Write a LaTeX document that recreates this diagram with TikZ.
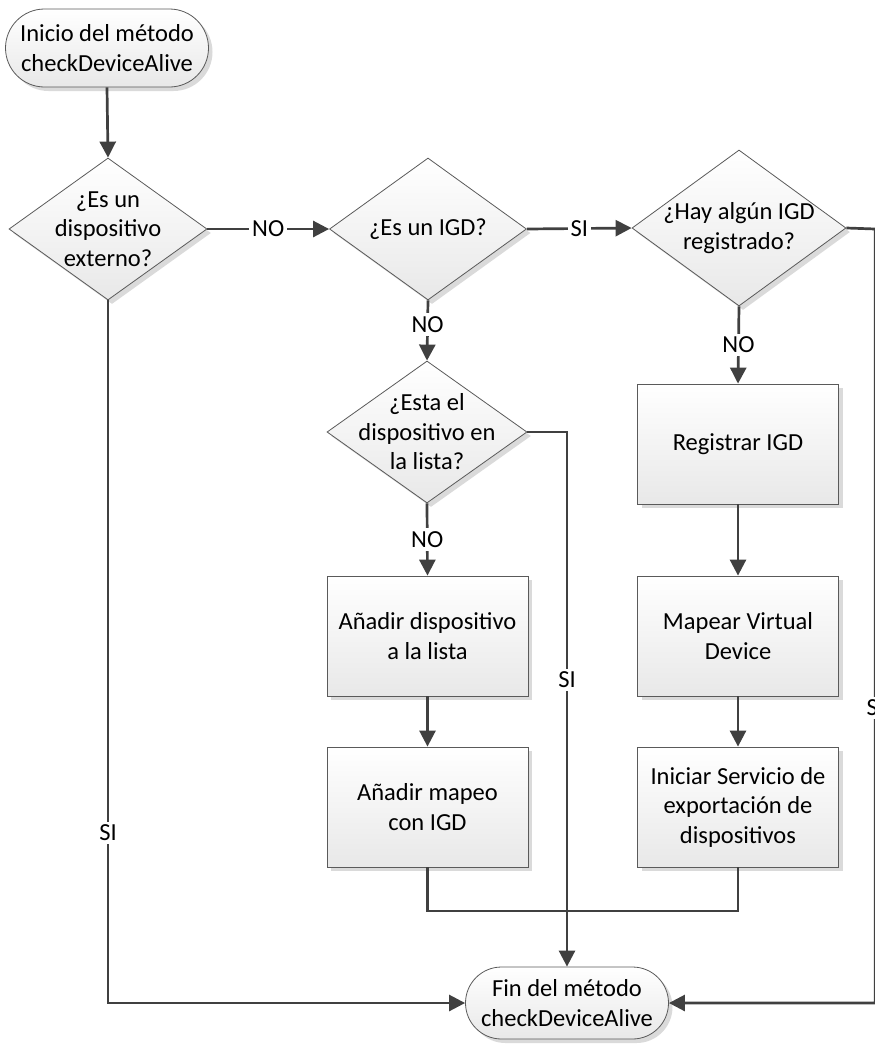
\documentclass[tikz,border=0pt]{standalone}
\usepackage{fontspec}
\setmainfont{Carlito}
\usetikzlibrary{shapes.geometric,shapes.misc,arrows.meta,shadows}

\definecolor{linegray}{HTML}{404040}
\definecolor{bordergray}{HTML}{5A5A5A}
\definecolor{shadowgray}{HTML}{DADADA}

\tikzset{
  every node/.style={font=\fontsize{24.5}{29.5}\selectfont},
  shapebase/.style={draw=bordergray, line width=0.8pt,
    top color=white, bottom color=black!9,
    drop shadow={shadow xshift=4pt, shadow yshift=-4pt, fill=shadowgray, opacity=1},
    align=center, inner sep=0pt},
  terminal/.style={shapebase, rounded rectangle, minimum width=203pt},
  procbox/.style={shapebase, rectangle, minimum width=201pt, minimum height=120pt},
  decision/.style={shapebase, diamond},
  flow/.style={draw=linegray, line width=2.7pt},
  arrowflow/.style={flow, -{Triangle[length=16pt,width=16pt]}},
  lbl/.style={fill=white, inner sep=3pt, text=black},
}

\begin{document}
\begin{tikzpicture}[x=1pt,y=-1pt]
\useasboundingbox (0,0) rectangle (875,1045);
\clip (0,0) rectangle (875,1045);

% start and end terminals
\node[terminal, minimum height=78pt] (start) at (107,48) {Inicio del método\\checkDeviceAlive};
\node[terminal, minimum height=72pt] (endn) at (567,1003) {Fin del método\\checkDeviceAlive};

% decisions
\node[decision, minimum width=198pt, minimum height=142pt,
  label={[align=center]center:{¿Es un\\dispositivo\\externo?}}] (d1) at (108,229) {};
\node[decision, minimum width=197pt, minimum height=142pt,
  label={[align=center]center:{¿Es un IGD?}}] (d2) at (428,229) {};
\node[decision, minimum width=214pt, minimum height=156pt,
  label={[align=center]center:{¿Hay algún IGD\\registrado?}}] (d3) at (739,228) {};
\node[decision, minimum width=200pt, minimum height=142pt,
  label={[align=center]center:{¿Esta el\\dispositivo en\\la lista?}}] (d4) at (427,432) {};

% process boxes, middle column
\node[procbox] (l1) at (427.5,636) {Añadir dispositivo\\a la lista};
\node[procbox] (l2) at (427.5,807) {Añadir mapeo\\con IGD};

% process boxes, right column
\node[procbox] (r1) at (738,444) {Registrar IGD};
\node[procbox] (r2) at (738,636) {Mapear Virtual\\Device};
\node[procbox] (r3) at (738,807) {Iniciar Servicio de\\exportación de\\dispositivos};

% routing points
\coordinate (lbot) at (108,1003);
\coordinate (d4r) at (567,432);
\coordinate (mrg) at (567,911);
\coordinate (rtop) at (875.3,229);
\coordinate (rbot) at (875.3,1003);

% connectors
\draw[arrowflow] (start.south) -- (d1.north);
\draw[arrowflow] (d1.east) -- node[lbl]{NO} (d2.west);
\draw[arrowflow] (d2.east) -- node[lbl]{SI} (d3.west);
\draw[arrowflow] (d2.south) -- node[lbl,pos=0.4]{NO} (d4.north);
\draw[arrowflow] (d3.south) -- node[lbl]{NO} (r1.north);
\draw[arrowflow] (d4.south) -- node[lbl]{NO} (l1.north);
\draw[arrowflow] (l1.south) -- (l2.north);
\draw[arrowflow] (r1.south) -- (r2.north);
\draw[arrowflow] (r2.south) -- (r3.north);
\draw[flow] (l2.south) |- (mrg) -| (r3.south);
\draw[arrowflow] (d4.east) -- (d4r) -- node[lbl,pos=0.464]{SI} (endn.north);
\draw[arrowflow] (d1.south) -- node[lbl,pos=0.758]{SI} (lbot) -- (endn.west);
\draw[arrowflow] (d3.east) -- (rtop) -- node[lbl,pos=0.619]{SI} (rbot) -- (endn.east);
\end{tikzpicture}
\end{document}
